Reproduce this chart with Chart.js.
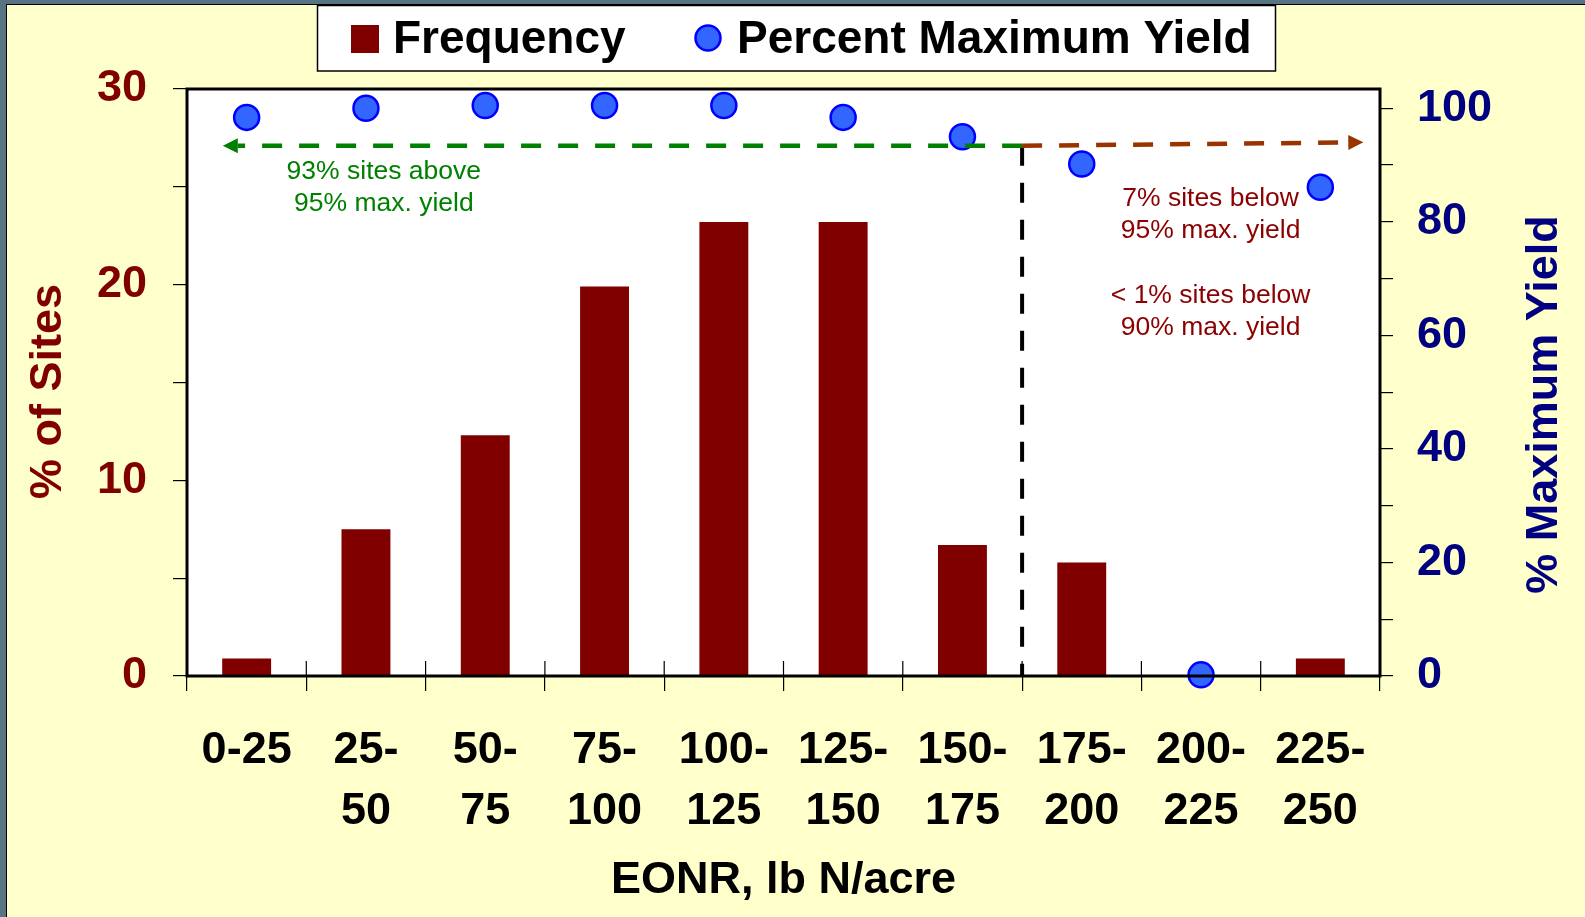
<!DOCTYPE html>
<html>
<head>
<meta charset="utf-8">
<script src="https://cdn.jsdelivr.net/npm/chart.js@4.4.1/dist/chart.umd.min.js"></script>
<style>
  html, body { margin: 0; padding: 0; background: #587382; overflow: hidden; }
  #wrap {
    position: absolute; left: 6px; top: 4px;
    width: 1578px; height: 912px;
    border-left: 1px solid #000; border-top: 1px solid #000;
    background: #ffffcc;
  }
  canvas { display: block; }
</style>
</head>
<body>
<div id="wrap"><canvas id="myChart"></canvas></div>
<script>
// categorias del eje x (EONR, lb N/acre)
const categorias = [
  "0-25", ["25-", "50"], ["50-", "75"], ["75-", "100"], ["100-", "125"],
  ["125-", "150"], ["150-", "175"], ["175-", "200"], ["200-", "225"], ["225-", "250"]
];
// % de sitios (eje izquierdo)
const frecuencia = [0.9, 7.5, 12.3, 19.9, 23.2, 23.2, 6.7, 5.8, 0, 0.9];
// % del rendimiento maximo (eje derecho)
const rendimiento = [98.4, 100, 100.5, 100.5, 100.5, 98.4, 95.0, 90.2, 0.2, 86.1];
const ticksIzq = [0, 5, 10, 15, 20, 25, 30];
const ticksDer = [0, 10, 20, 30, 40, 50, 60, 70, 80, 90, 100];

// anotaciones
const corteX = 6.5;
const nivelVerde = 93.4;
const nivelRojo = 94.0;
const puntaVerde = -0.2;
const puntaRoja = 9.36;
const notas = [
  { lineas: ["93% sites above", "95% max. yield"], x: 1.15, y: 88.8, color: "#008000" },
  { lineas: ["7% sites below", "95% max. yield"], x: 8.08, y: 84.0, color: "#8b0000" },
  { lineas: ["< 1% sites below", "90% max. yield"], x: 8.08, y: 67.0, color: "#8b0000" }
];

const fuente = "'Liberation Sans', Arial, sans-serif";

function flecha(ctx, x1, y1, x2, y2, color) {
  const ang = Math.atan2(y2 - y1, x2 - x1);
  const largo = 15;
  const bx = x2 - Math.cos(ang) * largo;
  const by = y2 - Math.sin(ang) * largo;
  ctx.save();
  ctx.strokeStyle = color;
  ctx.lineWidth = 4.5;
  ctx.setLineDash([20, 17]);
  ctx.beginPath();
  ctx.moveTo(x1, y1);
  ctx.lineTo(bx, by);
  ctx.stroke();
  ctx.setLineDash([]);
  ctx.fillStyle = color;
  ctx.beginPath();
  ctx.moveTo(x2, y2);
  ctx.lineTo(bx - Math.sin(ang) * 7.5, by + Math.cos(ang) * 7.5);
  ctx.lineTo(bx + Math.sin(ang) * 7.5, by - Math.cos(ang) * 7.5);
  ctx.closePath();
  ctx.fill();
  ctx.restore();
}

const marco = {
  id: "marco",
  beforeDraw(chart) {
    const { ctx, chartArea: a } = chart;
    ctx.save();
    ctx.fillStyle = "#ffffff";
    ctx.fillRect(a.left, a.top, a.right - a.left, a.bottom - a.top);
    ctx.restore();
  },
  afterDatasetsDraw(chart) {
    const { ctx, chartArea: a } = chart;
    const xs = chart.scales.x;
    const yd = chart.scales.y1;

    // marcas del eje x hacia dentro
    ctx.save();
    ctx.strokeStyle = "#000";
    ctx.lineWidth = 1.2;
    for (let i = 0; i <= categorias.length; i++) {
      const x = xs.getPixelForValue(i - 0.5);
      ctx.beginPath();
      ctx.moveTo(x, a.bottom - 15);
      ctx.lineTo(x, a.bottom);
      ctx.stroke();
    }
    ctx.restore();

    // linea vertical discontinua
    const xc = xs.getPixelForValue(corteX);
    const yv = yd.getPixelForValue(nivelVerde);
    ctx.save();
    ctx.strokeStyle = "#000";
    ctx.lineWidth = 4;
    ctx.setLineDash([20, 17]);
    ctx.beginPath();
    ctx.moveTo(xc, yv);
    ctx.lineTo(xc, a.bottom);
    ctx.stroke();
    ctx.restore();

    flecha(ctx, xc, yv, xs.getPixelForValue(puntaVerde), yv, "#008000");
    flecha(ctx, xc, yv, xs.getPixelForValue(puntaRoja), yd.getPixelForValue(nivelRojo), "#993300");

    ctx.save();
    ctx.font = "26.5px " + fuente;
    ctx.textAlign = "center";
    ctx.textBaseline = "middle";
    notas.forEach((n) => {
      ctx.fillStyle = n.color;
      const x = xs.getPixelForValue(n.x);
      const y = yd.getPixelForValue(n.y);
      n.lineas.forEach((t, i) => ctx.fillText(t, x, y + i * 32));
    });
    ctx.restore();
  },
  afterDraw(chart) {
    const { ctx, chartArea: a } = chart;
    ctx.save();
    ctx.strokeStyle = "#000";
    ctx.lineWidth = 3;
    ctx.strokeRect(a.left, a.top, a.right - a.left, a.bottom - a.top);

    // titulos de los ejes y
    ctx.font = "bold 45px " + fuente;
    ctx.textAlign = "center";
    ctx.textBaseline = "middle";
    const medio = (a.top + a.bottom) / 2;
    ctx.fillStyle = "#800000";
    ctx.save();
    ctx.translate(42, medio + 9);
    ctx.rotate(-Math.PI / 2);
    ctx.fillText("% of Sites", 0, 0);
    ctx.restore();
    ctx.fillStyle = "#000080";
    ctx.save();
    ctx.translate(a.right + 165, medio + 22);
    ctx.rotate(-Math.PI / 2);
    ctx.fillText("% Maximum Yield", 0, 0);
    ctx.restore();
    ctx.restore();
  }
};

const leyenda = {
  id: "leyenda",
  afterDraw(chart) {
    const ctx = chart.ctx;
    const ds = chart.data.datasets;
    const cx = chart.width / 2;
    const x0 = cx - 479;
    ctx.save();
    ctx.fillStyle = "#ffffff";
    ctx.fillRect(x0, 0, 959, 66);
    ctx.strokeStyle = "#000";
    ctx.lineWidth = 1.5;
    ctx.strokeRect(x0 + 0.5, 0.5, 958, 65.5);

    ctx.font = "bold 46px " + fuente;
    ctx.textBaseline = "alphabetic";
    ctx.textAlign = "left";

    // Frequency
    ctx.fillStyle = ds[0].backgroundColor;
    ctx.fillRect(x0 + 34, 20, 28, 28);
    ctx.fillStyle = "#000";
    ctx.fillText(ds[0].label, x0 + 76, 48);

    // Percent Maximum Yield
    ctx.fillStyle = ds[1].pointBackgroundColor;
    ctx.strokeStyle = ds[1].pointBorderColor;
    ctx.lineWidth = 2.5;
    ctx.beginPath();
    ctx.arc(x0 + 391, 33, 12.5, 0, Math.PI * 2);
    ctx.fill();
    ctx.stroke();
    ctx.fillStyle = "#000";
    ctx.fillText(ds[1].label, x0 + 420, 48);
    ctx.restore();
  }
};

const ctx = document.getElementById("myChart");

const myChart = new Chart(ctx, {
  type: "bar",
  data: {
    labels: categorias,
    datasets: [
      {
        type: "bar",
        label: "Frequency",
        data: frecuencia,
        backgroundColor: "#800000",
        yAxisID: "y",
        barPercentage: 0.41,
        categoryPercentage: 1,
        order: 2,
      },
      {
        type: "line",
        label: "Percent Maximum Yield",
        data: rendimiento,
        yAxisID: "y1",
        showLine: false,
        pointRadius: 12.5,
        pointHoverRadius: 12.5,
        pointBackgroundColor: "#3366ff",
        pointBorderColor: "#0000ff",
        pointBorderWidth: 2.5,
        clip: false,
        order: 1,
      },
    ],
  },
  options: {
    responsive: true,
    maintainAspectRatio: false,
    animation: false,
    layout: { padding: { top: 84, left: 0, right: 0, bottom: 0 } },
    plugins: {
      legend: { display: false },
      tooltip: { enabled: false },
    },
    scales: {
      x: {
        offset: true,
        grid: { offset: true, drawOnChartArea: false, tickLength: 15, color: "#000", lineWidth: 1.2 },
        border: { display: false },
        ticks: {
          color: "#000",
          font: { family: fuente, size: 45, weight: "bold", lineHeight: 1.36 },
          padding: 29,
          maxRotation: 0,
          autoSkip: false,
        },
        title: {
          display: true,
          text: "EONR, lb N/acre",
          color: "#000",
          font: { family: fuente, size: 45, weight: "bold" },
          padding: { top: 0, bottom: 9 },
        },
        afterFit: (s) => { s.height = 241; },
      },
      y: {
        position: "left",
        min: 0,
        max: 30,
        afterBuildTicks: (s) => { s.ticks = ticksIzq.map((v) => ({ value: v })); },
        ticks: {
          color: "#800000",
          font: { family: fuente, size: 45, weight: "bold" },
          padding: 26,
          callback: (v) => (v % 10 === 0 ? v : ""),
        },
        grid: { drawOnChartArea: false, tickLength: 14, color: "#000", lineWidth: 1.2 },
        border: { display: false },
        afterFit: (s) => { s.width = 180; },
      },
      y1: {
        position: "right",
        min: 0,
        max: 103.4,
        afterBuildTicks: (s) => { s.ticks = ticksDer.map((v) => ({ value: v })); },
        ticks: {
          color: "#000080",
          font: { family: fuente, size: 45, weight: "bold" },
          padding: 24,
          callback: (v) => (v % 20 === 0 ? v : ""),
        },
        grid: { drawOnChartArea: false, tickLength: 13, color: "#000", lineWidth: 1.2 },
        border: { display: false },
        afterFit: (s) => { s.width = 205; },
      },
    },
  },
  plugins: [marco, leyenda],
});
</script>
</body>
</html>
